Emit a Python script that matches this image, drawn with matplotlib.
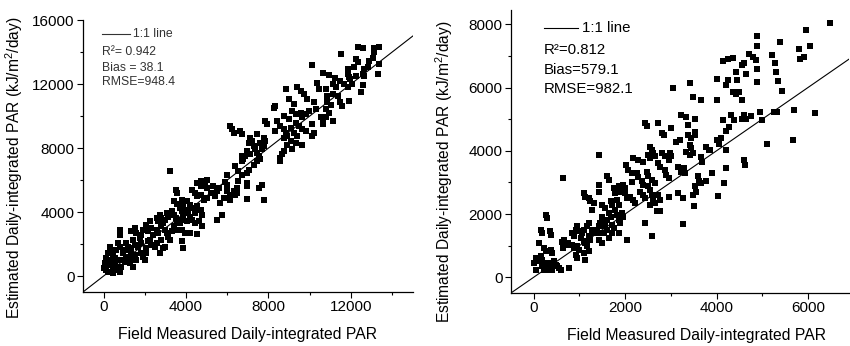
"""
Estimated vs field measured daily-integrated PAR
Two scatter panels with a 1:1 reference line
"""

import matplotlib.pyplot as plt
from matplotlib.ticker import MultipleLocator

plt.rcParams["font.family"] = ["Liberation Sans", "DejaVu Sans"]
plt.rcParams["mathtext.fontset"] = "custom"
plt.rcParams["mathtext.rm"] = "Liberation Sans"
plt.rcParams["mathtext.it"] = "Liberation Sans:italic"

# Left panel data
left_measured = [
    12330, 12570, 13140, 13380, 13140, 11510, 12240, 12330, 12890, 13060,
    13380, 10130, 11840, 12160, 12650, 12810, 10630, 10960, 13300, 11840,
    11920, 12240, 12570, 12650, 11220, 11480, 11640, 11140, 11300, 11970,
    12050, 11840, 12570, 12490, 10370, 10450, 10790, 10860, 11140, 11380,
    11920, 8830, 9400, 9560, 9720, 9890, 8990, 9240, 8340, 8260,
    10210, 10290, 10860, 11020, 10790, 10960, 11480, 11560, 9160, 9320,
    9560, 9640, 9800, 9960, 10630, 10790, 10540, 11140, 10630, 8750,
    8990, 8420, 9320, 9480, 10130, 9080, 8580, 8750, 8830, 8340,
    7850, 7930, 9640, 9800, 10210, 10130, 9240, 9400, 8910, 8750,
    9080, 9320, 9640, 8910, 9160, 8750, 8670, 8580, 8550, 6150,
    6230, 6310, 6630, 6700, 7120, 7200, 7040, 7450, 7770, 7850,
    7610, 7770, 7690, 7280, 7370, 7450, 6960, 7120, 6700, 6860,
    7040, 7530, 7610, 6780, 6700, 7450, 7280, 7040, 6960, 6390,
    6700, 6540, 5980, 5900, 5980, 6540, 6960, 6960, 6460, 7690,
    7530, 7770, 6960, 6310, 6390, 6460, 5980, 6150, 5820, 5660,
    5500, 5410, 5580, 5330, 6150, 5740, 5500, 5010, 4930, 5010,
    4550, 4720, 4750, 4290, 4450, 4550, 4720, 4880, 5040, 5200,
    3220, 3510, 3550, 3410, 3580, 3790, 3870, 4030, 4190, 4550,
    4620, 3710, 3790, 3870, 4030, 4110, 4190, 4360, 4450, 4720,
    4760, 3310, 3410, 3500, 3060, 3140, 2980, 3580, 3710, 3870,
    4030, 4290, 4450, 4620, 4790, 3410, 3580, 3310, 3790, 3950,
    4030, 4190, 4550, 2730, 2810, 2570, 2650, 2890, 2810, 2980,
    3060, 3140, 3220, 2570, 2650, 2410, 2240, 2080, 2320, 2160,
    1920, 1840, 2810, 2570, 2490, 2980, 2730, 2890, 2240, 2320,
    2080, 2160, 3790, 3870, 1510, 1590, 1350, 1750, 1840, 1670,
    1430, 1510, 1350, 1110, 1190, 1020, 780, 810, 700, 780,
    620, 940, 1110, 1270, 1350, 1510, 1590, 860, 1020, 1270,
    1430, 1840, 1920, 2000, 2080, 290, 370, 210, 460, 540,
    370, 130, 210, 50, 290, 460, 620, 780, 50, 130,
    210, 540, 700, 290, 460, 30, 860,
]
left_estimated = [
    14300, 14240, 14240, 14300, 13990, 13885, 13570, 13360, 13460, 13610,
    13260, 13190, 12920, 13050, 12920, 13050, 12690, 12570, 12630, 12630,
    12420, 12520, 12630, 12520, 12360, 12210, 11990, 11990, 11790, 12290,
    11990, 11790, 11940, 11480, 12040, 11690, 11690, 11270, 11370, 11270,
    10950, 11690, 11790, 11580, 11370, 11060, 11060, 10740, 10600, 10530,
    10850, 10430, 10850, 10680, 10430, 10220, 10850, 10640, 10330, 10110,
    10220, 9910, 10120, 10330, 9800, 9910, 9910, 9700, 9490, 10010,
    9800, 9700, 9590, 9380, 9490, 9280, 9380, 9170, 8960, 9070,
    9700, 9490, 9170, 9070, 8960, 8750, 8960, 8750, 8750, 8650,
    8440, 8330, 8190, 8190, 7920, 7810, 7600, 7390, 7180, 9380,
    9170, 8960, 9070, 8860, 8650, 8440, 8330, 8860, 8650, 8440,
    8330, 8120, 7920, 8120, 7920, 7710, 7810, 7600, 7500, 7500,
    7600, 7500, 7290, 7290, 7180, 7180, 6970, 6650, 6450, 6870,
    6340, 6550, 6340, 5860, 5720, 5930, 5820, 5610, 5510, 5720,
    5510, 4770, 4820, 5300, 5090, 5190, 5300, 5090, 4880, 4570,
    5300, 4980, 5510, 5610, 4770, 3830, 3520, 6030, 5720, 5510,
    5820, 5610, 5930, 5400, 5190, 4980, 5090, 4770, 4880, 5190,
    6550, 5400, 5190, 4670, 4520, 4770, 4460, 4670, 4460, 4360,
    4150, 4250, 4040, 3830, 4150, 3930, 3720, 4250, 3930, 4150,
    3830, 4040, 3830, 3620, 3930, 3720, 3520, 3520, 3310, 3520,
    3410, 3520, 3310, 3410, 3100, 3100, 2890, 2790, 2890, 2680,
    2680, 2680, 2640, 3830, 3620, 3620, 3410, 3310, 3100, 2890,
    2680, 2470, 2260, 2890, 2680, 2580, 3410, 3200, 2990, 2790,
    2890, 2580, 2260, 2050, 1840, 1840, 1420, 1740, 2260, 1950,
    1740, 2160, 2160, 1740, 2990, 2680, 2790, 2370, 2050, 1840,
    2260, 1950, 1740, 2050, 1840, 1630, 2580, 2890, 2050, 1840,
    1630, 1420, 1210, 1110, 1530, 1320, 1000, 1000, 900, 790,
    590, 1420, 1210, 1000, 1420, 1840, 1630, 1420, 1320, 1110,
    1000, 1110, 900, 790, 690, 480, 380, 270, 590, 380,
    270, 790, 590, 270, 170, 480, 590,
]

# Right panel data
right_measured = [
    6490, 5960, 6040, 5810, 5830, 5920, 4890, 4890, 5210, 5380,
    4700, 4790, 4860, 4890, 5280, 5310, 5340, 5430, 4890, 4600,
    4640, 4420, 4450, 4130, 4240, 4360, 4560, 4000, 4210, 4260,
    4350, 4420, 4500, 4560, 4020, 4130, 4310, 4380, 4610, 4750,
    4640, 4560, 4960, 5000, 5250, 5330, 5690, 6150, 5670, 5110,
    4610, 4620, 4020, 4060, 4100, 4210, 4280, 4210, 4170, 4040,
    3410, 3050, 3480, 3650, 3230, 3340, 3380, 3520, 3000, 2800,
    2840, 2430, 2470, 2720, 3120, 3190, 3380, 3450, 3520, 3530,
    3410, 3450, 3480, 3340, 3410, 3770, 3840, 1420, 2180, 2290,
    2400, 2540, 2580, 2620, 2650, 2500, 2540, 2800, 2870, 2950,
    2980, 3010, 2720, 2760, 2870, 2900, 2950, 3290, 3230, 3300,
    3160, 2010, 2070, 2140, 2250, 2290, 2470, 2500, 2580, 2650,
    2360, 2400, 2140, 1960, 2000, 1860, 1890, 1750, 1780, 1600,
    1640, 640, 1420, 1420, 1100, 1130, 1210, 1240, 1310, 1280,
    1490, 1570, 1680, 1710, 1820, 1860, 2000, 2040, 2110, 2180,
    2220, 2330, 2400, 2430, 2500, 2540, 2580, 2620, 2650, 2720,
    2760, 2540, 2690, 2760, 2950, 3160, 3260, 3500, 3260, 2430,
    2580, 1930, 1960, 1780, 1820, 1640, 1680, 1600, 1490, 1530,
    1460, 1710, 1750, 1860, 1890, 1570, 1600, 1530, 1420, 1390,
    1460, 1280, 1310, 1210, 1170, 1100, 1060, 950, 920, 990,
    840, 880, 1030, 1100, 1210, 1240, 1420, 1490, 1640, 1710,
    1860, 2040, 740, 700, 840, 880, 950, 990, 1130, 1170,
    1210, 920, 950, 1100, 1130, 270, 300, 350, 380, 160,
    190, 120, 230, 270, 380, 410, 50, 90, 160, 190,
    10, 50, 230, 270, 340, 380, 410, 450, 480, 520,
    560, 590, 770, 300, 230, 190, 610, 660, 640, 3660,
    3690, 3850, 3590, 3620, 3520, 3550, 3480, 3910, 3660, 3770,
    4210,
]
right_estimated = [
    8040, 7810, 7310, 7230, 6890, 6950, 7630, 7310, 7040, 7440,
    7070, 6970, 6860, 6600, 6780, 6500, 6200, 5900, 6180, 6760,
    6440, 6500, 6230, 6840, 6890, 6920, 6710, 6260, 6080, 6240,
    5870, 5810, 5870, 5600, 5600, 4970, 5130, 4970, 5130, 5110,
    5020, 5020, 5240, 4970, 5210, 5210, 5290, 5180, 4340, 4200,
    3710, 3550, 4340, 4220, 4390, 4610, 4760, 3440, 2980, 2560,
    6130, 6000, 5710, 5600, 5130, 5080, 4810, 5000, 4710, 4570,
    4500, 4890, 4780, 4870, 4290, 4340, 4500, 4390, 4600, 4500,
    4180, 4080, 3920, 3970, 3870, 4130, 4030, 3870, 3760, 3710,
    3660, 4130, 4030, 3920, 3820, 3870, 3760, 3920, 3820, 3710,
    3920, 3820, 3600, 3500, 3400, 3240, 3130, 3450, 3340, 3290,
    3500, 3550, 3400, 3290, 3290, 3160, 3340, 3190, 3080, 2980,
    3030, 2920, 3000, 2920, 2820, 2870, 2710, 2820, 2660, 3210,
    3080, 3150, 2920, 2710, 2680, 2550, 2500, 2400, 2340, 2130,
    2290, 2190, 2400, 2290, 2450, 2290, 2660, 2500, 2550, 2450,
    2340, 2710, 2610, 2500, 2870, 2760, 2610, 2450, 2340, 2610,
    2450, 2290, 2080, 2080, 2550, 2660, 2500, 2240, 1680, 1710,
    1310, 2030, 1920, 2130, 1980, 2030, 1920, 1820, 1920, 1820,
    1710, 1660, 1550, 1820, 1710, 1610, 1500, 1400, 1610, 1500,
    1400, 1500, 1400, 1710, 1610, 1500, 1400, 1610, 1500, 1450,
    1400, 1290, 1240, 1140, 1290, 1190, 1190, 1080, 1240, 1400,
    1400, 1190, 1080, 1030, 1030, 920, 980, 870, 1080, 980,
    820, 710, 610, 770, 560, 1980, 1870, 1450, 1350, 1500,
    1400, 1080, 930, 820, 870, 770, 610, 500, 660, 560,
    450, 240, 450, 350, 450, 350, 240, 500, 400, 350,
    290, 240, 290, 240, 240, 350, 1130, 1190, 920, 3810,
    3660, 4020, 3190, 3030, 2870, 2710, 2610, 3290, 2980, 3030,
    4030,
]

# Text
xlabel = "Field Measured Daily-integrated PAR"
ylabel = "Estimated Daily-integrated PAR (kJ/m$^2$/day)"
left_stats = ["R\u00b2= 0.942", "Bias = 38.1", "RMSE=948.4"]
right_stats = ["R\u00b2=0.812", "Bias=579.1", "RMSE=982.1"]


def style_axes(ax, xlim, ylim, major_x, major_y):
    """Open-box axes with outward ticks"""
    ax.spines["top"].set_visible(False)
    ax.spines["right"].set_visible(False)
    for side in ["left", "bottom"]:
        ax.spines[side].set_linewidth(0.9)
    ax.set_xlim(*xlim)
    ax.set_ylim(*ylim)
    ax.xaxis.set_major_locator(MultipleLocator(major_x))
    ax.xaxis.set_minor_locator(MultipleLocator(major_x / 2))
    ax.yaxis.set_major_locator(MultipleLocator(major_y))
    ax.yaxis.set_minor_locator(MultipleLocator(major_y / 2))
    ax.tick_params(which="major", direction="out", length=4, width=0.8,
                   labelsize=11, pad=2)
    ax.tick_params(which="minor", direction="out", length=2.5, width=0.8)


def add_key(ax, x0, x1, y_line, text_x, stat_ys, stats, fontsize, color):
    """Draw the '1:1 line' key and the statistics text"""
    ax.plot([x0, x1], [y_line, y_line], color=color, lw=0.8,
            transform=ax.transAxes)
    ax.text(text_x, y_line, "1:1 line", transform=ax.transAxes,
            fontsize=fontsize, va="center", ha="left", color=color)
    for yy, s in zip(stat_ys, stats):
        ax.text(x0, yy, s, transform=ax.transAxes, fontsize=fontsize,
                va="center", ha="left", color=color)


fig = plt.figure(figsize=(8.5, 3.46), dpi=100)

# Left panel
ax1 = fig.add_axes([0.0976, 0.156, 0.388, 0.786])
style_axes(ax1, (-1000, 15000), (-1000, 16000), 4000, 4000)
ax1.plot([-1000, 15000], [-1000, 15000], color="black", lw=0.8)
ax1.scatter(left_measured, left_estimated, marker="s", s=16, c="black",
            linewidths=0, zorder=3)
ax1.set_xlabel(xlabel, fontsize=11.3)
ax1.set_ylabel(ylabel, fontsize=11.2)
ax1.xaxis.set_label_coords(0.5, -0.13)
ax1.yaxis.set_label_coords(-0.176, 0.456)
add_key(ax1, 0.058, 0.142, 0.949, 0.152, [0.882, 0.824, 0.772],
        left_stats, 8.8, "#333333")

# Right panel
ax2 = fig.add_axes([0.601, 0.153, 0.398, 0.818])
style_axes(ax2, (-500, 6900), (-500, 8450), 2000, 2000)
ax2.plot([-500, 6900], [-500, 6900], color="black", lw=0.8)
ax2.scatter(right_measured, right_estimated, marker="s", s=16, c="black",
            linewidths=0, zorder=3)
ax2.set_xlabel(xlabel, fontsize=11.3)
ax2.set_ylabel(ylabel, fontsize=11.2)
ax2.xaxis.set_label_coords(0.55, -0.123)
ax2.yaxis.set_label_coords(-0.166, 0.428)
add_key(ax2, 0.098, 0.198, 0.936, 0.210, [0.859, 0.788, 0.721],
        right_stats, 10.8, "black")

fig.savefig("out.png", dpi=100)
plt.close(fig)
